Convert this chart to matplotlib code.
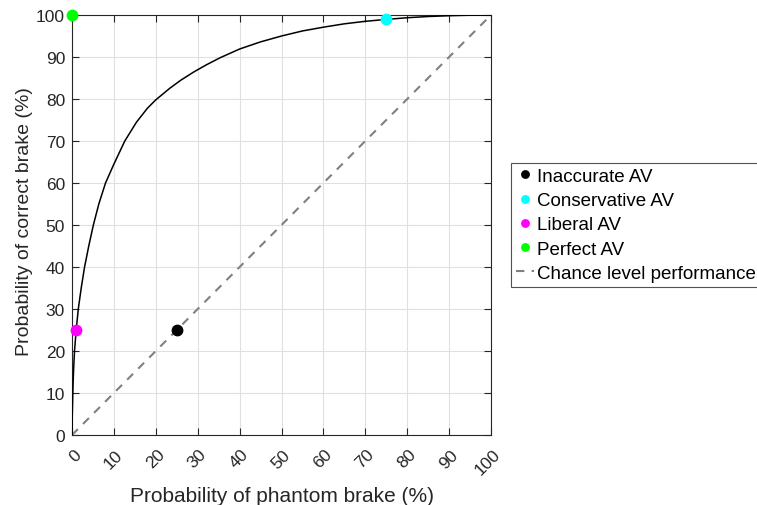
import matplotlib
matplotlib.use("Agg")
import matplotlib.pyplot as plt
from matplotlib.transforms import ScaledTranslation

plt.rcParams['font.family'] = ['Liberation Sans', 'DejaVu Sans']

# ROC curve (x: phantom brake %, y: correct brake %)
roc_x = [0, 0.02, 0.1, 0.25, 0.4, 0.6, 1.0, 1.5, 2.2, 3.0, 4.0, 5.1, 6.4, 8.0,
         10, 12.6, 15.4, 18, 20, 23.4, 26, 29, 32, 35.3, 40, 45, 50, 55, 60,
         65, 70, 75, 80, 85, 90, 95, 100]
roc_y = [0, 3, 6, 12, 16, 20, 25, 30, 35, 40, 45, 50, 55, 60,
         64.5, 70, 74.5, 77.8, 79.8, 82.6, 84.5, 86.4, 88.1, 89.8, 91.9, 93.6, 95, 96.2, 97.1,
         97.9, 98.5, 98.95, 99.35, 99.64, 99.83, 99.95, 100]

point_names = ['Inaccurate AV', 'Conservative AV', 'Liberal AV', 'Perfect AV']
point_x = [25, 75, 1, 0]
point_y = [25, 99, 25, 100]
point_colors = ['#000000', '#00ffff', '#ff00ff', '#00ff00']

chance_x = [0, 100]
chance_y = [0, 100]

ticks = [0, 10, 20, 30, 40, 50, 60, 70, 80, 90, 100]

fig = plt.figure(figsize=(7.57, 5.06), dpi=100)
ax = fig.add_axes([72/757, 70/506, 419/757, 420/506])

ax.plot(roc_x, roc_y, color='black', lw=1.1, zorder=3)
handles = []
for n, x, y, c in zip(point_names, point_x, point_y, point_colors):
    h, = ax.plot([x], [y], 'o', color=c, markersize=8.5, label=n,
                 clip_on=False, zorder=5, markeredgewidth=0)
    handles.append(h)
hc, = ax.plot(chance_x, chance_y, '--', color='#808080', lw=1.5,
              dashes=(4, 3.5), label='Chance level performance', zorder=2)
handles.append(hc)

ax.set_xlim(0, 100)
ax.set_ylim(0, 100)
ax.set_xticks(ticks)
ax.set_yticks(ticks)
ax.set_xticklabels([str(t) for t in ticks])
ax.set_yticklabels([str(t) for t in ticks])
ax.tick_params(direction='in', length=5, width=0.8, top=True, right=True,
               labelsize=12.5, colors='#262626', labelcolor='#262626', pad=5)
ax.tick_params(axis='x', pad=12)
ax.grid(True, color='#e0e0e0', lw=0.8)
ax.set_axisbelow(True)
for s in ax.spines.values():
    s.set_color('#262626')
    s.set_linewidth(0.8)

off = ScaledTranslation(6.5/100, 0, fig.dpi_scale_trans)
for lab in ax.get_xticklabels():
    lab.set_rotation(45)
    lab.set_rotation_mode('anchor')
    lab.set_ha('right')
    lab.set_va('center')
    lab.set_transform(lab.get_transform() + off)

ax.set_xlabel('Probability of phantom brake (%)', fontsize=15, color='#262626')
ax.xaxis.set_label_coords(0.5, (436 - 487) / 420)
ax.set_ylabel('Probability of correct brake (%)', fontsize=14, color='#262626')
ax.yaxis.set_label_coords((33 - 72) / 419, (436 - 222) / 420)

leg = fig.legend(handles=handles, loc='upper left',
                 bbox_to_anchor=(511/757, 1 - 164/506), fontsize=13.5,
                 frameon=True, fancybox=False, edgecolor='#262626',
                 handlelength=0.95, handletextpad=0.2, borderpad=0.25,
                 labelspacing=0.38, borderaxespad=0, markerscale=0.75)
leg.get_frame().set_linewidth(0.8)

fig.savefig('out.png', dpi=100)
